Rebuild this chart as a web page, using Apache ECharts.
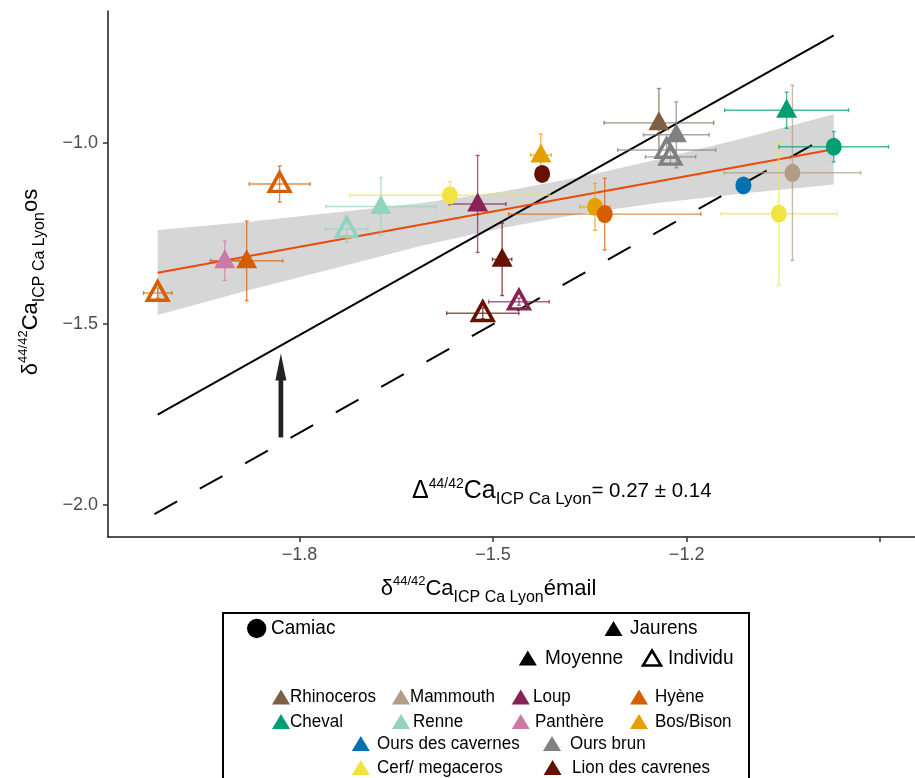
<!DOCTYPE html>
<html><head><meta charset="utf-8">
<script src="https://cdn.jsdelivr.net/npm/echarts@6/dist/echarts.min.js"></script>
<style>html,body{margin:0;padding:0;background:#fff}#c{width:915px;height:778px}</style>
</head><body><div id="c"></div>
<script>
const FONT = '"Liberation Sans", Arial, Helvetica, sans-serif';

// ---- species / colours ----
const speciesNames  = ['Rhinoceros','Mammouth','Loup','Hyène','Cheval','Renne','Panthère','Bos/Bison','Ours des cavernes','Ours brun','Cerf/ megaceros','Lion des cavrenes'];
const speciesColors = ['#7E5F45','#B09D86','#882255','#D55E00','#009E73','#92D3C0','#CC79A7','#E69F00','#0072B2','#808080','#F0E442','#661100'];

// ---- points (in drawing order) ----
const pointSpecies = ['Hyène','Panthère','Hyène','Hyène','Renne','Renne','Cerf/ megaceros','Loup','Lion des cavrenes','Loup','Lion des cavrenes','Bos/Bison','Lion des cavrenes','Bos/Bison','Hyène','Rhinoceros','Ours brun','Ours brun','Ours brun','Ours des cavernes','Cerf/ megaceros','Mammouth','Cheval','Cheval'];
const pointSite    = ['Jaurens','Jaurens','Jaurens','Jaurens','Jaurens','Jaurens','Camiac','Jaurens','Jaurens','Jaurens','Jaurens','Jaurens','Camiac','Camiac','Camiac','Jaurens','Jaurens','Jaurens','Jaurens','Camiac','Camiac','Camiac','Jaurens','Camiac'];
const pointType    = ['Individu','Moyenne','Moyenne','Individu','Individu','Moyenne','Moyenne','Moyenne','Individu','Individu','Moyenne','Moyenne','Moyenne','Moyenne','Moyenne','Moyenne','Individu','Individu','Moyenne','Moyenne','Moyenne','Moyenne','Moyenne','Moyenne'];
const emailValues  = [-2.020,-1.916,-1.882,-1.831,-1.727,-1.674,-1.567,-1.524,-1.516,-1.460,-1.486,-1.426,-1.424,-1.342,-1.327,-1.243,-1.231,-1.225,-1.216,-1.112,-1.057,-1.036,-1.045,-0.972];
const osValues     = [-1.414,-1.325,-1.325,-1.113,-1.238,-1.175,-1.144,-1.168,-1.470,-1.438,-1.321,-1.033,-1.085,-1.176,-1.196,-0.944,-1.019,-1.038,-0.977,-1.117,-1.195,-1.082,-0.909,-1.010];
const emailErr     = [0.022,0.022,0.056,0.047,0.033,0.085,0.155,0.044,0.056,0.047,0.015,0.016,0.004,0.023,0.149,0.085,0.076,0.039,0.051,0,0.090,0.106,0.096,0.085];
const osErr        = [0.014,0.054,0.110,0.050,0.036,0.080,0.038,0.134,0.015,0.010,0.100,0.058,0.004,0.065,0.099,0.095,0.020,0.020,0.091,0,0.197,0.242,0.050,0.042];

// ---- regression line and confidence band ----
const regX = [-2.020, -0.972];
const regY = [-1.358, -1.017];
const bandX    = [-2.020,-1.878,-1.738,-1.614,-1.490,-1.366,-1.242,-1.102,-0.972];
const bandHigh = [-1.240,-1.217,-1.190,-1.166,-1.135,-1.094,-1.044,-0.982,-0.920];
const bandLow  = [-1.475,-1.406,-1.342,-1.285,-1.236,-1.196,-1.165,-1.137,-1.114];

// ---- 1:1 line (dashed) and shifted line (solid, +0.27) ----
const oneToOneX = [-2.025, -0.978];
const oneToOneY = [-2.025, -0.978];
const shiftedX  = [-2.020, -0.972];
const shiftedY  = [-1.750, -0.702];

// ---- arrow (x, from y, to y) ----
const arrowX = -1.829, arrowFrom = -1.813, arrowTo = -1.581;

// ---- axes ----
const xTickValues  = [-1.8, -1.5, -1.2, -0.9];
const xLabelValues = [-1.8, -1.5, -1.2];
const yTickValues  = [-2.0, -1.5, -1.0];

const colorOf = s => speciesColors[speciesNames.indexOf(s)];
const fmt = v => (v < 0 ? '\u2212' : '') + Math.abs(v).toFixed(1);

const pointData = emailValues.map((x, i) => {
  const c = colorOf(pointSpecies[i]);
  const tri = pointSite[i] === 'Jaurens';
  const hollow = pointType[i] === 'Individu';
  return {
    value: [x, osValues[i]],
    symbol: tri ? 'triangle' : 'circle',
    symbolSize: tri ? (hollow ? [20.5, 18.5] : [21, 19]) : [16, 18],
    symbolOffset: tri ? [0, -2] : [0, 0],
    itemStyle: hollow ? {color: 'rgba(255,255,255,0)', borderColor: c, borderWidth: 3.5, opacity: 1}
                      : {color: c, borderWidth: 0, opacity: 1}
  };
});

const richTitle = (main, sup, sub) => ({
  d: {fontSize: main, lineHeight: 40, fontFamily: FONT, color: '#000'},
  sup: {fontSize: sup, lineHeight: sup, fontFamily: FONT, color: '#000', verticalAlign: 'top', padding: [6, 0, 0, 0]},
  sub: {fontSize: sub, lineHeight: sub, fontFamily: FONT, color: '#000', verticalAlign: 'bottom', padding: [0, 0, 3, 0]},
  v: {fontSize: 20.5, lineHeight: 40, fontFamily: FONT, color: '#000'}
});

// ---- legend (graphic) ----
const legendGraphics = [];
function tri(cx, cy, color, hollow) {
  const w = 18, h = 15;
  legendGraphics.push({
    type: 'polygon',
    shape: {points: [[cx, cy - h / 2], [cx + w / 2, cy + h / 2], [cx - w / 2, cy + h / 2]]},
    style: hollow ? {fill: 'none', stroke: color, lineWidth: 2.6} : {fill: color}
  });
}
function txt(x, y, s, size) {
  legendGraphics.push({
    type: 'text', x: x, y: y, scaleY: 1.1,
    style: {text: s, x: 0, y: 0, fill: '#000', font: size + 'px ' + FONT, align: 'left', verticalAlign: 'middle'}
  });
}
legendGraphics.push({type: 'rect', shape: {x: 223, y: 613, width: 526, height: 220},
  style: {fill: 'none', stroke: '#000', lineWidth: 2}});
legendGraphics.push({type: 'circle', shape: {cx: 256.7, cy: 628.5, r: 9.7}, style: {fill: '#000'}});
txt(271, 628.5, 'Camiac', 19);
tri(613.5, 628.5, '#000', false); txt(630, 628.5, 'Jaurens', 19);
tri(527.8, 658, '#000', false); txt(545, 658, 'Moyenne', 19);
tri(652, 658, '#000', true); txt(668, 658, 'Individu', 19);
const legendTriX  = [281, 401, 520.7, 639, 281, 401, 520.7, 639, 360.8, 552, 360.8, 552.6];
const legendTextX = [290, 410, 533, 655, 290, 413, 535, 655, 377, 570, 377, 572];
const legendRowY  = [697, 697, 697, 697, 721.5, 721.5, 721.5, 721.5, 743.5, 743.5, 767.5, 767.5];
const legendOrder = ['Rhinoceros','Mammouth','Loup','Hyène','Cheval','Renne','Panthère','Bos/Bison','Ours des cavernes','Ours brun','Cerf/ megaceros','Lion des cavrenes'];
legendOrder.forEach((s, i) => {
  tri(legendTriX[i], legendRowY[i], colorOf(s), false);
  txt(legendTextX[i], legendRowY[i], s, 17);
});

// annotation
legendGraphics.push({
  type: 'text', x: 412, y: 471,
  style: {
    text: '{d|\u0394}{sup|44/42}{d|Ca}{sub|ICP Ca Lyon}{v|= 0.27 \u00B1 0.14}',
    rich: richTitle(25, 14, 17),
    align: 'left', verticalAlign: 'top', fill: '#000'
  }
});

const chart = echarts.init(document.getElementById('c'), null, {renderer: 'canvas'});
chart.setOption({
  animation: false,
  backgroundColor: '#fff',
  grid: {left: 108, top: 11, right: 0, bottom: 241, containLabel: false, outerBoundsMode: 'none'},
  xAxis: {
    type: 'value', min: -2.097, max: -0.846,
    splitLine: {show: false},
    axisLine: {show: true, onZero: false, lineStyle: {color: '#1a1a1a', width: 1.5}},
    axisTick: {show: true, customValues: xTickValues, length: 5, lineStyle: {color: '#333', width: 1.5}},
    axisLabel: {customValues: xLabelValues, formatter: fmt, color: '#4d4d4d', fontSize: 18, fontFamily: FONT, margin: 9},
    name: '{d|\u03B4}{sup|44/42}{d|Ca}{sub|ICP Ca Lyon}{d|\u00E9mail}',
    nameLocation: 'middle', nameGap: 29,
    nameTextStyle: {rich: richTitle(22, 13, 16), padding: [0, 46, 0, 0]}
  },
  yAxis: {
    type: 'value', min: -2.088, max: -0.635,
    splitLine: {show: false},
    axisLine: {show: true, onZero: false, lineStyle: {color: '#1a1a1a', width: 1.5}},
    axisTick: {show: true, customValues: yTickValues, length: 5, lineStyle: {color: '#333', width: 1.5}},
    axisLabel: {customValues: yTickValues, formatter: fmt, color: '#4d4d4d', fontSize: 18, fontFamily: FONT, margin: 10},
    name: '{d|\u03B4}{sup|44/42}{d|Ca}{sub|ICP Ca Lyon}{d|os}',
    nameLocation: 'middle', nameGap: 57, nameRotate: 90,
    nameTextStyle: {rich: richTitle(22, 13, 16), padding: [0, 16, 0, 0]}
  },
  graphic: legendGraphics,
  series: [
    { // confidence band
      type: 'custom', z: 1, silent: true,
      data: bandX.map((x, i) => [x, bandLow[i], bandHigh[i]]),
      renderItem(params, api) {
        if (params.dataIndex !== 0) return null;
        const pts = [];
        bandX.forEach((x, i) => pts.push(api.coord([x, bandHigh[i]])));
        for (let i = bandX.length - 1; i >= 0; i--) pts.push(api.coord([bandX[i], bandLow[i]]));
        return {type: 'polygon', shape: {points: pts}, style: {fill: '#d6d6d6'}};
      }
    },
    { type: 'line', z: 2, silent: true, symbol: 'none',
      data: oneToOneX.map((x, i) => [x, oneToOneY[i]]),
      lineStyle: {color: '#000', width: 2, type: [26, 26]} },
    { type: 'line', z: 2, silent: true, symbol: 'none',
      data: shiftedX.map((x, i) => [x, shiftedY[i]]),
      lineStyle: {color: '#000', width: 2} },
    { type: 'line', z: 3, silent: true, symbol: 'none',
      data: regX.map((x, i) => [x, regY[i]]),
      lineStyle: {color: '#EA4B08', width: 2.2} },
    { // error bars
      type: 'custom', z: 4, silent: true,
      data: emailValues.map((x, i) => [x, osValues[i], emailErr[i], osErr[i]]),
      encode: {x: 0, y: 1},
      renderItem(params, api) {
        const i = params.dataIndex;
        const x = api.value(0), y = api.value(1), ex = api.value(2), ey = api.value(3);
        const c = colorOf(pointSpecies[i]);
        const st = {stroke: c, lineWidth: 1.4, opacity: 0.7};
        const ch = [];
        const cap = 2;
        if (ex > 0) {
          const l = api.coord([x - ex, y]), r = api.coord([x + ex, y]);
          ch.push({type: 'line', shape: {x1: l[0], y1: l[1], x2: r[0], y2: r[1]}, style: st});
          ch.push({type: 'line', shape: {x1: l[0], y1: l[1] - cap, x2: l[0], y2: l[1] + cap}, style: st});
          ch.push({type: 'line', shape: {x1: r[0], y1: r[1] - cap, x2: r[0], y2: r[1] + cap}, style: st});
        }
        if (ey > 0) {
          const t = api.coord([x, y + ey]), b = api.coord([x, y - ey]);
          ch.push({type: 'line', shape: {x1: t[0], y1: t[1], x2: b[0], y2: b[1]}, style: st});
          ch.push({type: 'line', shape: {x1: t[0] - cap, y1: t[1], x2: t[0] + cap, y2: t[1]}, style: st});
          ch.push({type: 'line', shape: {x1: b[0] - cap, y1: b[1], x2: b[0] + cap, y2: b[1]}, style: st});
        }
        return {type: 'group', children: ch};
      }
    },
    { type: 'scatter', z: 5, silent: true, data: pointData, itemStyle: {opacity: 1} },
    { // arrow
      type: 'custom', z: 6, silent: true,
      data: [[arrowX, arrowFrom, arrowTo]],
      renderItem(params, api) {
        const b = api.coord([api.value(0), api.value(1)]);
        const t = api.coord([api.value(0), api.value(2)]);
        const headLen = 27, headW = 11, shaftW = 4.7;
        return {type: 'group', children: [
          {type: 'rect', shape: {x: b[0] - shaftW / 2, y: t[1] + headLen - 1, width: shaftW, height: b[1] - t[1] - headLen + 1}, style: {fill: '#222'}},
          {type: 'polygon', shape: {points: [[t[0], t[1]], [t[0] + headW / 2, t[1] + headLen], [t[0] - headW / 2, t[1] + headLen]]}, style: {fill: '#222'}}
        ]};
      }
    }
  ]
});
</script></body></html>
